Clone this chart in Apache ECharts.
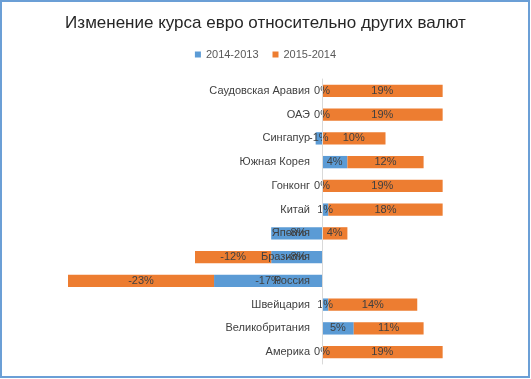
<!DOCTYPE html>
<html><head><meta charset="utf-8">
<script src="https://cdn.jsdelivr.net/npm/echarts@6/dist/echarts.min.js"></script>
<style>html,body{margin:0;padding:0;background:#fff}#c{width:531px;height:379px}</style>
</head><body><div id="c"></div>
<script>
const categories = ['Саудовская Аравия','ОАЭ','Сингапур','Южная Корея','Гонконг','Китай','Япония','Бразилия','Россия','Швейцария','Великобритания','Америка'];
const seriesNames = ['2014-2013','2015-2014'];
const values2014_2013 = [0,0,-1,4,0,1,-8,-8,-17,1,5,0];
const values2015_2014 = [19,19,10,12,19,18,4,-12,-23,14,11,19];
const titleText = 'Изменение курса евро относительно других валют';

const font = 'Liberation Sans, Arial, sans-serif';
const chart = echarts.init(document.getElementById('c'), null, {renderer:'canvas'});
const lbl = {show:true, position:'inside', formatter: p => p.value + '%', color:'#404040', fontSize:11, fontFamily:font};
const gridLeft = 68, gridWidth = 444.5, xMin = -40, xMax = 30;
const zeroOffset = gridWidth * (0 - xMin) / (xMax - xMin);
chart.setOption({
  animation:false,
  color:['#5b9bd5','#ed7d31'],
  title:{text:titleText, left:'center', top:10, textStyle:{fontSize:17, fontWeight:'normal', color:'#262626', fontFamily:font}},
  legend:{top:44, left:'center', itemWidth:6, itemHeight:6, itemGap:14, icon:'rect', textStyle:{fontSize:11, color:'#595959', fontFamily:font}, data:seriesNames},
  graphic:[{type:'rect', shape:{x:1, y:1, width:528, height:376}, style:{fill:'none', stroke:'#6b9fd6', lineWidth:2}, silent:true}],
  grid:{left:gridLeft, width:gridWidth, top:79, height:285, containLabel:false, outerBoundsMode:'none'},
  xAxis:{type:'value', min:xMin, max:xMax, show:false},
  yAxis:{type:'category', data:categories, inverse:true, offset:-zeroOffset, z:10,
    axisLine:{onZero:false, lineStyle:{color:'#d9d9d9', width:1}},
    axisTick:{show:false},
    axisLabel:{interval:0, margin:12, fontSize:11, color:'#404040', fontFamily:font}},
  series:[
    {name:seriesNames[0], type:'bar', stack:'a', barWidth:'52%', data:values2014_2013, label:lbl},
    {name:seriesNames[1], type:'bar', stack:'a', barWidth:'52%', data:values2015_2014, label:lbl}
  ]
});
</script></body></html>
